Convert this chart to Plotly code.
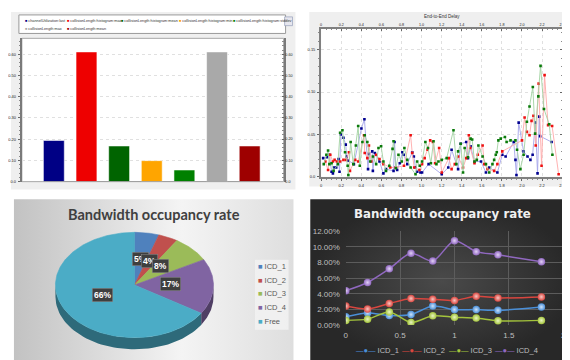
import numpy as np
import plotly.graph_objects as go

W, H = 570, 360

# ===================== DATA =====================
# top-left: bar chart
bar_names = ["channelUtilization:last", "collisionLength:histogram:max",
             "collisionLength:histogram:mean", "collisionLength:histogram:min",
             "collisionLength:histogram:stddev", "collisionLength:max",
             "collisionLength:mean"]
bar_values = [0.194, 0.611, 0.168, 0.099, 0.055, 0.611, 0.168]
bar_tick_vals = [0.0, 0.1, 0.2, 0.3, 0.4, 0.5, 0.6]
bar_tick_text = ["0.0", "0.10", "0.20", "0.30", "0.40", "0.50", "0.60"]

# top-right: End-to-End Delay
delay_title = "End-to-End Delay"
delay_x_ticks = [0, 0.2, 0.4, 0.6, 0.8, 1.0, 1.2, 1.4, 1.6, 1.8, 2.0, 2.2, 2.4]
delay_x_text = ["0", "0.2", "0.4", "0.6", "0.8", "1.0", "1.2", "1.4", "1.6",
                "1.8", "2.0", "2.2", "2.4"]
delay_y_ticks = [0, 0.05, 0.10, 0.15]
delay_y_text = ["0.0", "0.05", "0.10", "0.15"]

blue_x = [0.020, 0.059, 0.082, 0.104, 0.117, 0.131, 0.150, 0.173, 0.183, 0.196,
          0.222, 0.245, 0.254, 0.274, 0.326, 0.401, 0.431, 0.467, 0.476, 0.509,
          0.515, 0.535, 0.581, 0.620, 0.646, 0.721, 0.731, 0.744, 0.757, 0.783,
          0.809, 0.822, 0.858, 0.907, 0.923, 0.940, 0.956, 0.989, 1.005, 1.070,
          1.201, 1.266, 1.299, 1.364, 1.390, 1.445, 1.462, 1.488, 1.527, 1.592,
          1.641, 1.674, 1.755, 1.804, 1.837, 1.918, 1.935, 1.945, 1.967, 2.016,
          2.055, 2.084, 2.106, 2.133, 2.155, 2.172, 2.180, 2.295]
blue_y = [0.022, 0.023, 0.026, 0.006, 0.004, 0.011, 0.011, 0.021, 0.006, 0.050,
          0.046, 0.038, 0.024, 0.019, 0.015, 0.057, 0.068, 0.009, 0.027, 0.030,
          0.007, 0.028, 0.018, 0.004, 0.009, 0.007, 0.041, 0.011, 0.008, 0.016,
          0.029, 0.026, 0.015, 0.029, 0.024, 0.011, 0.006, 0.005, 0.005, 0.015,
          0.003, 0.011, 0.032, 0.009, 0.039, 0.041, 0.022, 0.036, 0.018, 0.018,
          0.005, 0.011, 0.005, 0.026, 0.024, 0.041, 0.020, 0.002, 0.064, 0.030,
          0.024, 0.020, 0.026, 0.064, 0.004, 0.071, 0.048, 0.041]

red_x = [0.042, 0.069, 0.091, 0.117, 0.134, 0.157, 0.189, 0.222, 0.248, 0.277,
         0.287, 0.339, 0.369, 0.427, 0.434, 0.460, 0.476, 0.499, 0.548, 0.581,
         0.620, 0.688, 0.744, 0.825, 0.891, 0.907, 0.927, 0.979, 1.005, 1.031,
         1.060, 1.086, 1.113, 1.135, 1.175, 1.201, 1.272, 1.299, 1.331, 1.364,
         1.413, 1.445, 1.471, 1.485, 1.527, 1.560, 1.608, 1.625, 1.657, 1.723,
         1.755, 1.804, 2.000, 2.026, 2.049, 2.075, 2.095, 2.114, 2.137, 2.166,
         2.195, 2.225, 2.260, 2.300, 2.365]
red_y = [0.018, 0.008, 0.026, 0.018, 0.020, 0.018, 0.018, 0.020, 0.020, 0.029,
         0.007, 0.020, 0.018, 0.049, 0.028, 0.022, 0.037, 0.018, 0.026, 0.021,
         0.015, 0.011, 0.011, 0.013, 0.049, 0.028, 0.011, 0.008, 0.015, 0.022,
         0.032, 0.043, 0.041, 0.016, 0.034, 0.005, 0.022, 0.009, 0.015, 0.024,
         0.011, 0.022, 0.049, 0.034, 0.016, 0.026, 0.037, 0.015, 0.009, 0.007,
         0.015, 0.030, 0.043, 0.070, 0.053, 0.049, 0.066, 0.072, 0.037, 0.110,
         0.013, 0.120, 0.061, 0.060, 0.003]

green_x = [0.026, 0.052, 0.069, 0.082, 0.104, 0.124, 0.166, 0.189, 0.212, 0.238,
           0.264, 0.271, 0.294, 0.320, 0.346, 0.369, 0.385, 0.411, 0.434, 0.460,
           0.489, 0.515, 0.548, 0.571, 0.597, 0.620, 0.646, 0.679, 0.711, 0.721,
           0.744, 0.770, 0.803, 0.829, 0.858, 0.891, 0.940, 0.956, 0.982, 1.005,
           1.038, 1.064, 1.093, 1.119, 1.148, 1.168, 1.201, 1.250, 1.318, 1.347,
           1.364, 1.390, 1.413, 1.429, 1.462, 1.488, 1.504, 1.527, 1.550, 1.566,
           1.608, 1.641, 1.674, 1.706, 1.723, 1.739, 1.749, 1.765, 1.788, 1.830,
           1.847, 1.886, 1.935, 1.951, 1.984, 2.016, 2.049, 2.075, 2.108, 2.131,
           2.163, 2.185, 2.219, 2.271, 2.303]
green_y = [0.015, 0.026, 0.031, 0.015, 0.016, 0.007, 0.015, 0.052, 0.055, 0.029,
           0.013, 0.002, 0.041, 0.015, 0.037, 0.060, 0.013, 0.041, 0.049, 0.041,
           0.018, 0.024, 0.015, 0.034, 0.036, 0.018, 0.007, 0.013, 0.033, 0.042,
           0.010, 0.026, 0.018, 0.034, 0.020, 0.011, 0.003, 0.018, 0.013, 0.018,
           0.041, 0.034, 0.016, 0.042, 0.015, 0.018, 0.020, 0.022, 0.055, 0.015,
           0.030, 0.039, 0.005, 0.034, 0.023, 0.045, 0.044, 0.018, 0.020, 0.037,
           0.024, 0.015, 0.005, 0.015, 0.020, 0.026, 0.029, 0.043, 0.045, 0.047,
           0.041, 0.043, 0.043, 0.032, 0.009, 0.026, 0.065, 0.083, 0.106, 0.051,
           0.095, 0.131, 0.080, 0.062, 0.026]

# bottom-left: pie
pie_title = "Bandwidth occupancy rate"
pie_labels = ["ICD_1", "ICD_2", "ICD_3", "ICD_4", "Free"]
pie_values = [5, 4, 8, 17, 66]

# bottom-right: line chart (percent)
rate_title = "Bandwidth occupancy rate"
rate_names = ["ICD_1", "ICD_2", "ICD_3", "ICD_4"]
rate_x = [0, 0.2, 0.4, 0.6, 0.8, 1.0, 1.2, 1.4, 1.8]
rate_icd1 = [1.05, 1.55, 1.21, 1.34, 2.43, 1.97, 1.97, 1.88, 2.30]
rate_icd2 = [2.43, 2.05, 2.76, 3.39, 3.30, 3.14, 3.68, 3.47, 3.60]
rate_icd3 = [0.59, 0.75, 1.67, 0.33, 1.17, 1.00, 0.88, 0.54, 0.59]
rate_icd4 = [4.40, 5.45, 7.20, 9.20, 8.20, 10.80, 9.40, 9.00, 8.10]
rate_y_ticks = [0, 2, 4, 6, 8, 10, 12]
rate_y_text = ["0.00%", "2.00%", "4.00%", "6.00%", "8.00%", "10.00%", "12.00%"]
rate_x_ticks = [0, 0.5, 1, 1.5, 2]
rate_x_text = ["0", "0.5", "1", "1.5", "2"]

# ===================== STYLE =====================
BAR_COLORS = ["#000085", "#ee0000", "#006400", "#ffa500", "#008000", "#a9a9a9", "#9e0000"]
BAR_W = 0.64
DELAY_STYLE = [("#a4a4ea", "#00008f"), ("#ffa8a8", "#ee1111"), ("#a2d2a2", "#0a7a0a")]
PIE_COLORS = ["#4f81bd", "#c0504d", "#9bbb59", "#8064a2", "#4bacc6"]
RATE_COLORS = ["#4a8fd8", "#d9463f", "#a4c43c", "#9068c0"]
RATE_HILITE = ["#cfe3fa", "#f8c8c4", "#e9f5c4", "#e2d2f5"]
TINY = "Liberation Sans"


def dom(x0, x1, y0, y1):
    return [x0 / W, x1 / W], [1 - y1 / H, 1 - y0 / H]


def px(x, y):
    return x / W, 1 - y / H


def darker(hexc, f):
    h = hexc.lstrip("#")
    r, g, b = (int(h[i:i + 2], 16) for i in (0, 2, 4))
    return "rgb(%d,%d,%d)" % (r * f, g * f, b * f)


fig = go.Figure()

# ---------- panel backgrounds (gradients) on full-page pixel axis ----------
fig.add_trace(go.Scatter(
    x=[3, 286, 286, 3, 3], y=[192, 192, 360, 360, 192], mode="lines",
    fill="toself", line=dict(width=0), hoverinfo="skip", showlegend=False,
    fillgradient=dict(type="horizontal",
                      colorscale=[[0, "#c2c2c2"], [0.6, "#f4f4f4"], [1, "#dedede"]]),
    xaxis="x", yaxis="y"))
fig.add_trace(go.Scatter(
    x=[303, 570, 570, 303, 303], y=[192, 192, 360, 360, 192], mode="lines",
    fill="toself", line=dict(width=0), hoverinfo="skip", showlegend=False,
    fillgradient=dict(type="radial",
                      colorscale=[[0, "#4a4a4a"], [1, "#282828"]]),
    xaxis="x", yaxis="y"))

# ---------- top-left bars ----------
fig.add_trace(go.Bar(
    x=list(range(len(bar_values))), y=bar_values, width=BAR_W,
    marker=dict(color=BAR_COLORS, line=dict(color="rgba(255,255,255,0.55)", width=1)),
    showlegend=False, hoverinfo="skip", xaxis="x2", yaxis="y2"))
fig.add_trace(go.Scatter(x=[None], y=[None], xaxis="x2", yaxis="y6", showlegend=False))

# ---------- top-right delay lines ----------
for (xs, ys), (lc, mc) in zip([(blue_x, blue_y), (red_x, red_y), (green_x, green_y)],
                              DELAY_STYLE):
    fig.add_trace(go.Scatter(
        x=xs, y=ys, mode="lines+markers",
        line=dict(color=lc, width=0.9),
        marker=dict(symbol="square", size=2.6, color=mc),
        showlegend=False, hoverinfo="skip", xaxis="x3", yaxis="y3"))
fig.add_trace(go.Scatter(x=[None], y=[None], xaxis="x7", yaxis="y3", showlegend=False))
fig.add_trace(go.Scatter(x=[None], y=[None], xaxis="x3", yaxis="y7", showlegend=False))

# ---------- bottom-left 3D-like pie (pixel axis x4/y4) ----------
CX, CY, RX, RY, DEPTH = 125, 280, 80, 54, 12
total = float(sum(pie_values))
bounds = []
a = 0.0
for v in pie_values:
    bounds.append((a, a + v / total * 360.0))
    a += v / total * 360.0

# side walls (front half of ellipse: 90..270 deg clockwise from top)
for (a0, a1), col in zip(bounds, PIE_COLORS):
    lo, hi = max(a0, 90.0), min(a1, 270.0)
    if hi <= lo:
        continue
    t = np.radians(np.linspace(lo, hi, 60))
    ex = CX + RX * np.sin(t)
    ey = CY - RY * np.cos(t)
    xs = np.concatenate([ex, ex[::-1], ex[:1]])
    ys = np.concatenate([ey, ey[::-1] + DEPTH, ey[:1]])
    fig.add_trace(go.Scatter(x=xs, y=ys, mode="lines", fill="toself",
                             fillcolor=darker(col, 0.62), line=dict(width=0),
                             hoverinfo="skip", showlegend=False, xaxis="x4", yaxis="y4"))
# top faces
for (a0, a1), col in zip(bounds, PIE_COLORS):
    t = np.radians(np.linspace(a0, a1, max(int(a1 - a0), 3)))
    xs = np.concatenate([[CX], CX + RX * np.sin(t), [CX]])
    ys = np.concatenate([[CY], CY - RY * np.cos(t), [CY]])
    fig.add_trace(go.Scatter(x=xs, y=ys, mode="lines", fill="toself",
                             fillcolor=col, line=dict(width=0.6, color=col),
                             hoverinfo="skip", showlegend=False, xaxis="x4", yaxis="y4"))

# ---------- bottom-right rate lines ----------
for name, ys, col, hl in zip(rate_names, [rate_icd1, rate_icd2, rate_icd3, rate_icd4],
                             RATE_COLORS, RATE_HILITE):
    fig.add_trace(go.Scatter(
        x=rate_x, y=ys, mode="lines+markers", name=name,
        line=dict(color=col, width=1.5, shape="spline", smoothing=0.8),
        marker=dict(size=7.5, color=col, line=dict(width=0),
                    gradient=dict(type="radial", color=hl)),
        showlegend=False, hoverinfo="skip", xaxis="x5", yaxis="y5"))

# ===================== AXES =====================
tiny_font = dict(family=TINY, size=4, color="#222222")
xd2, yd2 = dom(11, 276, 27, 174)
xd3, yd3 = dom(314, 558, 17, 169)
xd4, yd4 = dom(3, 286, 192, 360)
xd5, yd5 = dom(339, 559, 225, 321)


def axis_style(rng, vals, text, mdt, linecolor):
    return dict(range=rng, tickmode="array", tickvals=vals, ticktext=text,
                tickfont=tiny_font, ticks="outside", ticklen=2, tickcolor="#666666",
                showline=True, linecolor=linecolor, linewidth=2, zeroline=False,
                ticklabelstandoff=1,
                minor=dict(tickmode="linear", tick0=0, dtick=mdt, ticks="outside",
                           ticklen=1.2, tickcolor="#8a8a8a", showgrid=False))


def mirror_of(style):
    s = {k: v for k, v in style.items() if k != "range"}
    s["ticks"] = "inside"
    s["ticklabelstandoff"] = -1
    s["tickfont"] = dict(tiny_font, size=3.7)
    s["minor"] = dict(s["minor"], ticks="inside")
    return s


ybar = axis_style([0, 0.675], bar_tick_vals, bar_tick_text, 0.02, "#7a7a7a")
ydel = axis_style([0, 0.175], delay_y_ticks, delay_y_text, 0.01, "#808080")
xdel = axis_style([0, 2.4], delay_x_ticks, delay_x_text, 0.05, "#808080")
grid_dot = dict(showgrid=True, gridcolor="#e0e0e0", griddash="dot", gridwidth=1)

rate_font = dict(family="Liberation Sans", size=8, color="#bfbfbf")

fig.update_layout(
    width=W, height=H, margin=dict(l=0, r=0, t=0, b=0),
    paper_bgcolor="white", plot_bgcolor="rgba(0,0,0,0)",
    showlegend=False,
    xaxis=dict(domain=[0, 1], range=[0, W], visible=False, fixedrange=True),
    yaxis=dict(domain=[0, 1], range=[H, 0], visible=False, fixedrange=True),
    xaxis2=dict(domain=xd2, range=[-0.98, 7.04], visible=False, anchor="y2"),
    yaxis2=dict(domain=yd2, anchor="x2", side="left", **ybar, **grid_dot),
    yaxis6=dict(anchor="x2", overlaying="y2", matches="y2", side="right",
                showgrid=False, **mirror_of(ybar)),
    xaxis3=dict(domain=xd3, anchor="y3", side="bottom", **xdel, **grid_dot),
    xaxis7=dict(anchor="y3", overlaying="x3", matches="x3", side="top",
                showgrid=False, **mirror_of(xdel)),
    yaxis3=dict(domain=yd3, anchor="x3", side="left", **ydel, **grid_dot),
    yaxis7=dict(anchor="x3", overlaying="y3", matches="y3", side="right",
                showgrid=False, **mirror_of(ydel)),
    xaxis4=dict(domain=xd4, range=[3, 286], visible=False, anchor="y4"),
    yaxis4=dict(domain=yd4, range=[360, 192], visible=False, anchor="x4"),
    xaxis5=dict(domain=xd5, range=[0, 2], anchor="y5", tickmode="array",
                tickvals=rate_x_ticks, ticktext=rate_x_text, tickfont=rate_font,
                showgrid=True, gridcolor="#5c5c5c", gridwidth=1, zeroline=False,
                showline=False, ticks="", ticklabelstandoff=4),
    yaxis5=dict(domain=yd5, range=[0, 12], anchor="x5", tickmode="array",
                tickvals=rate_y_ticks, ticktext=rate_y_text, tickfont=rate_font,
                showgrid=True, gridcolor="#5c5c5c", gridwidth=1, zeroline=False,
                showline=False, ticks="", ticklabelstandoff=5),
)

# ===================== SHAPES =====================
shapes = []


def rect(x0, y0, x1, y1, fill, line=None, lw=0, layer="below"):
    a0, b0 = px(x0, y0)
    a1, b1 = px(x1, y1)
    shapes.append(dict(type="rect", xref="paper", yref="paper", x0=a0, y0=b1, x1=a1,
                       y1=b0, fillcolor=fill, layer=layer,
                       line=dict(color=line or fill, width=lw)))


rect(0, 0, 288, 182, "#efefef")
rect(8, 3, 278, 22, "#ffffff", "#9a9a9a", 1)
rect(11, 27, 276, 174, "#ffffff", "#a6a6a6", 1)
rect(277, 5, 285, 14, "#e6e6ee", "#a0a8c0", 0.8)
rect(302, 0, 570, 179, "#efefef")
rect(314, 17, 558, 169, "#ffffff")
rect(559, 2, 567, 11, "#e6e6ee", "#a0a8c0", 0.8)
rect(247, 254, 281, 326, "rgba(242,242,242,0.85)", layer="above")
# base line under the bar group
shapes.append(dict(type="line", xref="x2", yref="y2", x0=-BAR_W / 2,
                   x1=len(bar_values) - 1 + BAR_W / 2, y0=0, y1=0,
                   line=dict(color="#9a9a9a", width=1.5), layer="above"))
fig.update_layout(shapes=shapes)

# ===================== ANNOTATIONS =====================
ann = []
# top-left legend
LEG1_POS = [(12, 9), (55, 9), (109, 9), (168, 9), (223, 9), (12, 17), (55, 17)]
for name, col, (lx, ly) in zip(bar_names, BAR_COLORS, LEG1_POS):
    x, y = px(lx, ly)
    ann.append(dict(xref="paper", yref="paper", x=x, y=y, xanchor="left",
                    yanchor="middle", showarrow=False,
                    text='<span style="color:%s">■</span> %s' % (col, name),
                    font=dict(family=TINY, size=3.8, color="#333333")))
# delay title
x, y = px(436, 5)
ann.append(dict(xref="paper", yref="paper", x=x, y=y, xanchor="center",
                yanchor="middle", showarrow=False, text=delay_title,
                font=dict(family=TINY, size=4.5, color="#333333")))
# pie title
x, y = px(145, 208)
ann.append(dict(xref="paper", yref="paper", x=x, y=y, xanchor="center",
                yanchor="middle", showarrow=False, text=pie_title,
                font=dict(family="Lato", size=14.5, color="#404040", weight="bold")))
# pie labels
for (a0, a1), v in zip(bounds, pie_values):
    mid = np.radians((a0 + a1) / 2)
    lx = CX + 0.46 * RX * np.sin(mid)
    ly = CY - 0.46 * RY * np.cos(mid) - 2
    ann.append(dict(xref="x4", yref="y4", x=lx, y=ly, xanchor="center",
                    yanchor="middle", showarrow=False,
                    text="%d%%" % round(v / total * 100),
                    font=dict(family="Liberation Sans", size=8.5, color="white",
                              weight="bold"),
                    bgcolor="#3f3f3f", bordercolor="#8a8a8a", borderwidth=0.5,
                    borderpad=1.5))
# pie legend
for i, (name, col) in enumerate(zip(pie_labels, PIE_COLORS)):
    x, y = px(248, 261 + 14 * i)
    ann.append(dict(xref="paper", yref="paper", x=x, y=y, xanchor="left",
                    yanchor="middle", showarrow=False,
                    text='<span style="color:%s">■</span> %s' % (col, name),
                    font=dict(family="Liberation Sans", size=7.5, color="#595959")))
# rate title
x, y = px(437, 207)
ann.append(dict(xref="paper", yref="paper", x=x, y=y, xanchor="center",
                yanchor="middle", showarrow=False, text=rate_title,
                font=dict(family="DejaVu Sans", size=11.8, color="#f0f0f0",
                          weight="bold")))
# rate legend
for i, (name, col) in enumerate(zip(rate_names, RATE_COLORS)):
    x, y = px(347 + 47 * i, 347)
    ann.append(dict(xref="paper", yref="paper", x=x, y=y, xanchor="left",
                    yanchor="middle", showarrow=False,
                    text='<span style="color:%s">—●—</span> %s' % (col, name),
                    font=dict(family="Liberation Sans", size=7.5, color="#bfbfbf")))
fig.update_layout(annotations=ann)

fig.write_html("out.html")
